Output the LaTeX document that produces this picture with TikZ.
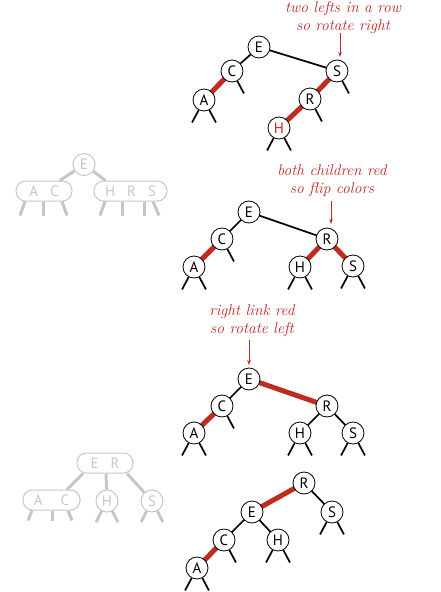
\documentclass[tikz,border=0pt]{standalone}
\usepackage{fontspec}
\setsansfont{PT Sans}
\usetikzlibrary{arrows.meta}
\pgfdeclarelayer{bg}\pgfsetlayers{bg,main}
\definecolor{rlink}{RGB}{190,45,30}
\definecolor{rtext}{RGB}{190,40,40}
\definecolor{ghost}{RGB}{198,198,198}
\newcommand\lstub[1]{\draw[stub] (#1.-118) -- ++(-6.6,12.4);}
\newcommand\rstub[1]{\draw[stub] (#1.-62) -- ++(6.6,12.4);}
\newcommand\glstub[1]{\draw[gstub] (#1.-118) -- ++(-5.5,11);}
\newcommand\grstub[1]{\draw[gstub] (#1.-62) -- ++(5.5,11);}
\begin{document}
\begin{tikzpicture}[x=1pt,y=-1pt,
 rb/.style={circle,draw,line width=0.8pt,fill=white,minimum size=22pt,inner sep=0pt,font=\sffamily\fontsize{15}{15}\selectfont},
 blk/.style={line width=1.7pt},
 redl/.style={line width=5pt,rlink},
 stub/.style={line width=1.7pt},
 note/.style={align=center,text=rtext,font=\itshape\fontsize{15.5}{17.5}\selectfont,inner sep=0pt},
 notearrow/.style={rtext,line width=0.6pt,-{Stealth[length=5pt,width=3.5pt]}},
 gnode/.style={circle,draw=ghost,line width=1pt,text=ghost,minimum size=22pt,inner sep=0pt,font=\sffamily\fontsize{15}{15}\selectfont},
 gbox/.style={draw=ghost,line width=1pt,text=ghost,rounded corners=9.5pt,minimum height=20pt,inner sep=0pt,font=\sffamily\fontsize{15}{15}\selectfont},
 glink/.style={ghost,line width=3pt},
 gstub/.style={ghost,line width=3pt},
]
\useasboundingbox (0,0) rectangle (441,592);

% ---------- tree 1 ----------
\node[rb] (E1) at (259,47) {E};
\node[rb] (C1) at (232,71) {C};
\node[rb] (A1) at (204,100) {A};
\node[rb] (S1) at (337,71) {S};
\node[rb] (R1) at (310,99) {R};
\node[rb,text=rlink] (H1) at (279,128) {H};
\begin{pgfonlayer}{bg}
\draw[blk] (E1.center) -- (C1.center);
\draw[blk] (E1.center) -- (S1.center);
\draw[redl] (C1.center) -- (A1.center);
\draw[redl] (S1.center) -- (R1.center);
\draw[redl] (R1.center) -- (H1.center);
\end{pgfonlayer}
\lstub{A1}\rstub{A1}\rstub{C1}\rstub{S1}\rstub{R1}\lstub{H1}\rstub{H1}
\node[note,anchor=north] (lab1) at (343,1.5) {two lefts in a row\\so rotate right};
\coordinate (t1) at (340,57);
\draw[notearrow] (t1 |- 0,33) -- (t1);

% ---------- ghost tree 1 ----------
\node[gnode] (gE1) at (84,164.5) {E};
\node[gbox,minimum width=56pt] (gAC1) at (44,191) {A\hspace{12pt}C};
\node[gbox,minimum width=73pt] (gHRS) at (130.5,191) {H\hspace{12pt}R\hspace{12pt}S};
\draw[glink] (gE1) -- ([xshift=16pt]gAC1.north);
\draw[glink] (gE1) -- ([xshift=-25pt]gHRS.north);
\draw[gstub] ([xshift=-19pt]gAC1.south) -- ++(-5,14);
\draw[gstub] ([xshift=-1pt]gAC1.south) -- ++(0,14);
\draw[gstub] ([xshift=18pt]gAC1.south) -- ++(5,14);
\draw[gstub] ([xshift=-25.5pt]gHRS.south) -- ++(-5,14);
\draw[gstub] ([xshift=-8.5pt]gHRS.south) -- ++(0,14);
\draw[gstub] ([xshift=13.5pt]gHRS.south) -- ++(0,14);
\draw[gstub] ([xshift=22.5pt]gHRS.south) -- ++(6,14);

% ---------- tree 2 ----------
\node[rb] (E2) at (249,212) {E};
\node[rb] (C2) at (222,239) {C};
\node[rb] (A2) at (194,267) {A};
\node[rb] (R2) at (327,239) {R};
\node[rb] (H2) at (300,267) {H};
\node[rb] (S2) at (353,266) {S};
\begin{pgfonlayer}{bg}
\draw[blk] (E2.center) -- (C2.center);
\draw[blk] (E2.center) -- (R2.center);
\draw[redl] (C2.center) -- (A2.center);
\draw[redl] (R2.center) -- (H2.center);
\draw[redl] (R2.center) -- (S2.center);
\end{pgfonlayer}
\lstub{A2}\rstub{A2}\rstub{C2}\lstub{H2}\rstub{H2}\lstub{S2}\rstub{S2}
\node[note,anchor=north] (lab2) at (332,165) {both children red\\so flip colors};
\coordinate (t2) at (331,224);
\draw[notearrow] (t2 |- 0,201) -- (t2);

% ---------- tree 3 ----------
\node[rb] (E3) at (249,379) {E};
\node[rb] (C3) at (222,406) {C};
\node[rb] (A3) at (194,433) {A};
\node[rb] (R3) at (327,406) {R};
\node[rb] (H3) at (300,433) {H};
\node[rb] (S3) at (353,433) {S};
\begin{pgfonlayer}{bg}
\draw[blk] (E3.center) -- (C3.center);
\draw[redl] (E3.center) -- (R3.center);
\draw[redl] (C3.center) -- (A3.center);
\draw[blk] (R3.center) -- (H3.center);
\draw[blk] (R3.center) -- (S3.center);
\end{pgfonlayer}
\lstub{A3}\rstub{A3}\rstub{C3}\lstub{H3}\rstub{H3}\lstub{S3}\rstub{S3}
\node[note,anchor=north] (lab3) at (252,305) {right link red\\so rotate left};
\coordinate (t3) at (249,365);
\draw[notearrow] (t3 |- 0,340) -- (t3);

% ---------- ghost tree 2 ----------
\node[gbox,minimum width=56pt] (gER) at (105,463) {E\hspace{12pt}R};
\node[gbox,minimum width=57pt] (gAC2) at (51.5,500) {A\hspace{18pt}C};
\node[gnode] (gH) at (107,501) {H};
\node[gnode] (gS) at (152,501) {S};
\draw[glink] ([xshift=-22pt]gER.south) -- ([xshift=15.5pt]gAC2.north);
\draw[glink] ([xshift=1pt]gER.south) -- (gH);
\draw[glink] ([xshift=22pt]gER.south) -- (gS);
\draw[gstub] ([xshift=-19.5pt]gAC2.south) -- ++(-4,10);
\draw[gstub] ([xshift=0.5pt]gAC2.south) -- ++(0,10);
\draw[gstub] ([xshift=16.5pt]gAC2.south) -- ++(4,10);
\glstub{gH}\grstub{gH}\glstub{gS}\grstub{gS}

% ---------- tree 4 ----------
\node[rb] (R4) at (304,483) {R};
\node[rb] (E4) at (252,512) {E};
\node[rb] (S4) at (332,512) {S};
\node[rb] (C4) at (224,540) {C};
\node[rb] (H4) at (278,540) {H};
\node[rb] (A4) at (197,568) {A};
\begin{pgfonlayer}{bg}
\draw[redl] (R4.center) -- (E4.center);
\draw[blk] (R4.center) -- (S4.center);
\draw[blk] (E4.center) -- (C4.center);
\draw[blk] (E4.center) -- (H4.center);
\draw[redl] (C4.center) -- (A4.center);
\end{pgfonlayer}
\lstub{A4}\rstub{A4}\rstub{C4}\lstub{H4}\rstub{H4}\lstub{S4}\rstub{S4}
\end{tikzpicture}
\end{document}
